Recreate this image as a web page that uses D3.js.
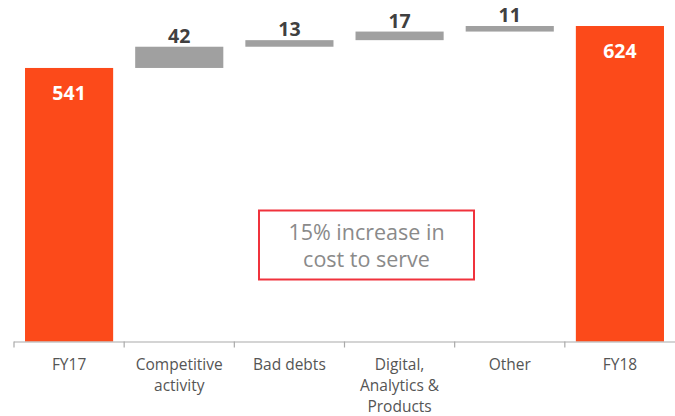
<!DOCTYPE html>
<html>
<head>
<meta charset="utf-8">
<script src="https://cdn.jsdelivr.net/npm/d3@7"></script>
<style>
  html, body { margin: 0; padding: 0; background: #fff; }
  svg { display: block; }
</style>
</head>
<body>
<svg id="chart" width="675" height="416"></svg>
<script>
// Cost-to-serve bridge, FY17 to FY18
const categories = ["FY17", "Competitive activity", "Bad debts", "Digital, Analytics & Products", "Other", "FY18"];
const tickLabels = [["FY17"], ["Competitive", "activity"], ["Bad debts"], ["Digital,", "Analytics &", "Products"], ["Other"], ["FY18"]];
const values = [541, 42, 13, 17, 11, 624];
const kinds = ["total", "step", "step", "step", "step", "total"];
const noteLines = ["15% increase in", "cost to serve"];

const svg = d3.select("#chart");
const baseY = 341.5;

const x = d3.scaleBand().domain(categories).range([14, 675]).paddingInner(0.2).paddingOuter(0.1);
const y = d3.scaleLinear().domain([0, 624]).range([baseY, 26]);

// running totals for floating bars
let run = 0;
const bars = categories.map((c, i) => {
  let y0, y1;
  if (kinds[i] === "total") { y0 = 0; y1 = values[i]; run = values[i]; }
  else { y0 = run; y1 = run + values[i]; run = y1; }
  return { cat: c, v: values[i], kind: kinds[i], y0, y1 };
});

const orange = "#FC4A1A", grey = "#A0A0A0";
const font = "'Open Sans', Arial, sans-serif";

svg.selectAll("rect.bar").data(bars).enter().append("rect")
  .attr("class", "bar")
  .attr("x", d => x(d.cat))
  .attr("width", x.bandwidth())
  .attr("y", d => y(d.y1))
  .attr("height", d => y(d.y0) - y(d.y1))
  .attr("fill", d => d.kind === "total" ? orange : grey);

// value labels
svg.selectAll("text.val").data(bars).enter().append("text")
  .attr("class", "val")
  .attr("x", d => x(d.cat) + x.bandwidth() / 2)
  .attr("y", d => d.kind === "total" ? y(d.y1) + 32 : y(d.y1) - 4)
  .attr("text-anchor", "middle")
  .attr("font-family", font)
  .attr("font-weight", 700)
  .attr("font-size", 19.5)
  .attr("fill", d => d.kind === "total" ? "#fff" : "#404040")
  .text(d => d.v);

// category axis: baseline with ticks at band edges
const axisG = svg.append("g");
axisG.append("line")
  .attr("x1", 14).attr("x2", 675).attr("y1", baseY + 0.5).attr("y2", baseY + 0.5)
  .attr("stroke", "#aaa").attr("stroke-width", 1.2);
const step = x.step();
const edges = categories.map(c => x(c) - step * x.paddingInner() / 2);
axisG.selectAll("line.tick").data(edges).enter().append("line")
  .attr("class", "tick")
  .attr("x1", d => d).attr("x2", d => d)
  .attr("y1", baseY).attr("y2", baseY + 6)
  .attr("stroke", "#aaa").attr("stroke-width", 1.2);

// one text element per label line
const lines = [];
categories.forEach((c, i) => tickLabels[i].forEach((t, j) => lines.push({ c, t, j })));
axisG.selectAll("text.cat").data(lines).enter().append("text")
  .attr("class", "cat")
  .attr("x", d => x(d.c) + x.bandwidth() / 2)
  .attr("y", d => 369.5 + d.j * 21.2)
  .attr("text-anchor", "middle")
  .attr("font-family", font)
  .attr("font-size", 15.5)
  .attr("fill", "#555")
  .text(d => d.t);

// annotation box
const note = svg.append("g");
note.append("rect")
  .attr("x", 259).attr("y", 210.5).attr("width", 215).attr("height", 69)
  .attr("fill", "#fff").attr("stroke", "#F0323C").attr("stroke-width", 2);
note.selectAll("text").data(noteLines).enter().append("text")
  .attr("x", 366.5)
  .attr("y", (d, i) => 240 + i * 26.5)
  .attr("text-anchor", "middle")
  .attr("font-family", font)
  .attr("font-size", 21.5)
  .attr("fill", "#8a8a8a")
  .text(d => d);
</script>
</body>
</html>
